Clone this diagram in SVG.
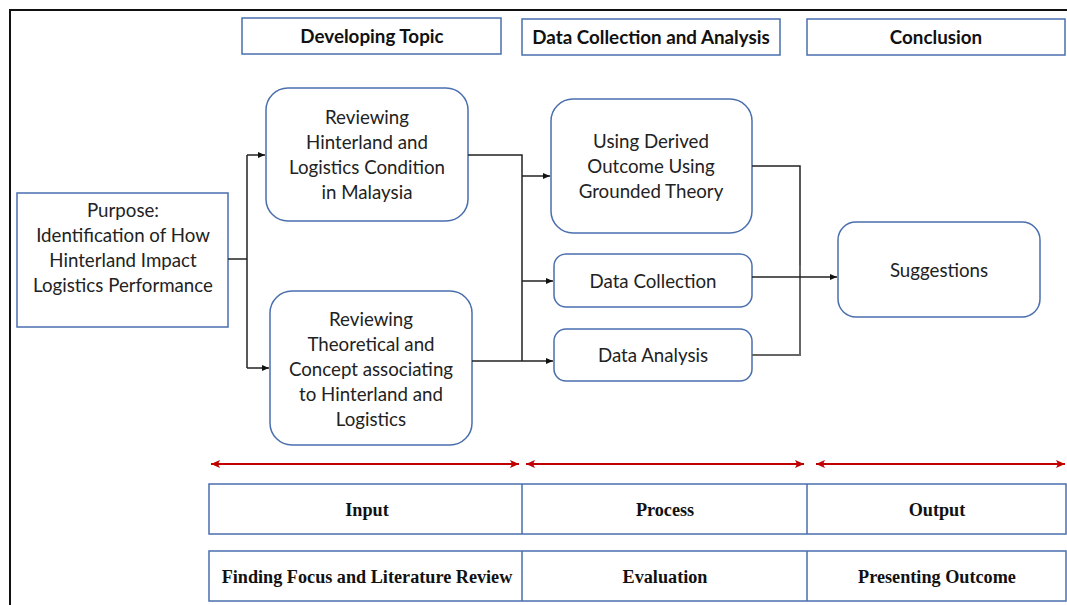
<svg xmlns="http://www.w3.org/2000/svg" width="1067" height="605" viewBox="0 0 1067 605">
<style>
.frame{fill:none;stroke:#111;stroke-width:2}
.hdr{fill:#fff;stroke:#4a6fae;stroke-width:1.5}
.box{fill:#fff;stroke:#4a6fae;stroke-width:1.5}
.t{font-family:Lato,"Noto Sans",sans-serif;font-size:18.7px;fill:#222;text-anchor:middle}
.th{font-family:Lato,"Noto Sans",sans-serif;font-size:18.8px;font-weight:bold;fill:#111;text-anchor:middle}
.ts{font-family:"Liberation Serif","Times New Roman",serif;font-size:18.2px;font-weight:bold;fill:#111;text-anchor:middle}
.c{fill:none;stroke:#222;stroke-width:1.5}
.cg{fill:none;stroke:#666;stroke-width:2}
.r{fill:none;stroke:#c00000;stroke-width:2;marker-start:url(#rs);marker-end:url(#re)}
</style>
<defs>
<marker id="ah" markerWidth="8" markerHeight="8" refX="7" refY="4" orient="auto" markerUnits="userSpaceOnUse">
<path d="M0,1 L7,4 L0,7 Z" fill="#111"/>
</marker>
<marker id="re" markerWidth="10" markerHeight="10" refX="9" refY="5" orient="auto" markerUnits="userSpaceOnUse">
<path d="M0,1 L9,5 L0,9 L2,5 Z" fill="#c00000"/>
</marker>
<marker id="rs" markerWidth="10" markerHeight="10" refX="1" refY="5" orient="auto" markerUnits="userSpaceOnUse">
<path d="M10,1 L1,5 L10,9 L8,5 Z" fill="#c00000"/>
</marker>
</defs>
<rect width="1067" height="605" fill="#fff"/>
<path class="frame" d="M10,605 V10 H1067"/>

<g id="hdr-developing">
<rect class="hdr" x="242" y="18" width="259" height="36"/>
<text class="th" x="372" y="43">Developing Topic</text>
</g>
<g id="hdr-data">
<rect class="hdr" x="522" y="19" width="258" height="36"/>
<text class="th" x="651" y="44">Data Collection and Analysis</text>
</g>
<g id="hdr-conclusion">
<rect class="hdr" x="807" y="19" width="258" height="36"/>
<text class="th" x="936" y="44">Conclusion</text>
</g>

<g id="purpose">
<rect class="box" x="17" y="193" width="211" height="134"/>
<text class="t" x="123" y="217">Purpose:</text>
<text class="t" x="123" y="242">Identification of How</text>
<text class="t" x="123" y="267">Hinterland Impact</text>
<text class="t" x="123" y="292">Logistics Performance</text>
</g>

<g id="review-hinterland">
<rect class="box" x="266" y="88" width="202" height="133" rx="22"/>
<text class="t" x="367" y="124">Reviewing</text>
<text class="t" x="367" y="149">Hinterland and</text>
<text class="t" x="367" y="174">Logistics Condition</text>
<text class="t" x="367" y="199">in Malaysia</text>
</g>

<g id="review-theoretical">
<rect class="box" x="270" y="291" width="202" height="154" rx="22"/>
<text class="t" x="371" y="326">Reviewing</text>
<text class="t" x="371" y="351">Theoretical and</text>
<text class="t" x="371" y="376">Concept associating</text>
<text class="t" x="371" y="401">to Hinterland and</text>
<text class="t" x="371" y="426">Logistics</text>
</g>

<g id="derived-outcome">
<rect class="box" x="551" y="99" width="201" height="134" rx="22"/>
<text class="t" x="651" y="148">Using Derived</text>
<text class="t" x="651" y="173">Outcome Using</text>
<text class="t" x="651" y="198">Grounded Theory</text>
</g>

<g id="data-collection">
<rect class="box" x="554" y="254" width="198" height="53" rx="12"/>
<text class="t" x="653" y="288">Data Collection</text>
</g>

<g id="data-analysis">
<rect class="box" x="554" y="329" width="198" height="52" rx="12"/>
<text class="t" x="653" y="362">Data Analysis</text>
</g>

<g id="suggestions">
<rect class="box" x="838" y="222" width="202" height="95" rx="18"/>
<text class="t" x="939" y="277">Suggestions</text>
</g>

<g id="connectors">
<path class="c" d="M228,259 H247"/>
<path class="c" d="M247,155 V368"/>
<path class="c" d="M247,155 H265" marker-end="url(#ah)"/>
<path class="c" d="M247,368 H269" marker-end="url(#ah)"/>
<path class="c" d="M468,155 H522 V361"/>
<path class="c" d="M472,361 H522"/>
<path class="c" d="M522,176 H550" marker-end="url(#ah)"/>
<path class="c" d="M522,281 H553" marker-end="url(#ah)"/>
<path class="c" d="M522,361 H553" marker-end="url(#ah)"/>
<path class="c" d="M752,166 H800 V307"/>
<path class="cg" d="M752,355 H800 V265"/>
<path class="c" d="M752,277 H837" marker-end="url(#ah)"/>
<path class="r" d="M211,464 H519"/>
<path class="r" d="M526,464 H804"/>
<path class="r" d="M816,464 H1065"/>
</g>

<g id="table-row1">
<rect class="hdr" x="209" y="484" width="857" height="50"/>
<path class="hdr" d="M522,484 V534 M807,484 V534"/>
<text class="ts" x="367" y="516">Input</text>
<text class="ts" x="665" y="516">Process</text>
<text class="ts" x="937" y="516">Output</text>
</g>
<g id="table-row2">
<rect class="hdr" x="209" y="551" width="857" height="50"/>
<path class="hdr" d="M522,551 V601 M807,551 V601"/>
<text class="ts" x="367" y="583">Finding Focus and Literature Review</text>
<text class="ts" x="665" y="583">Evaluation</text>
<text class="ts" x="937" y="583">Presenting Outcome</text>
</g>
</svg>
